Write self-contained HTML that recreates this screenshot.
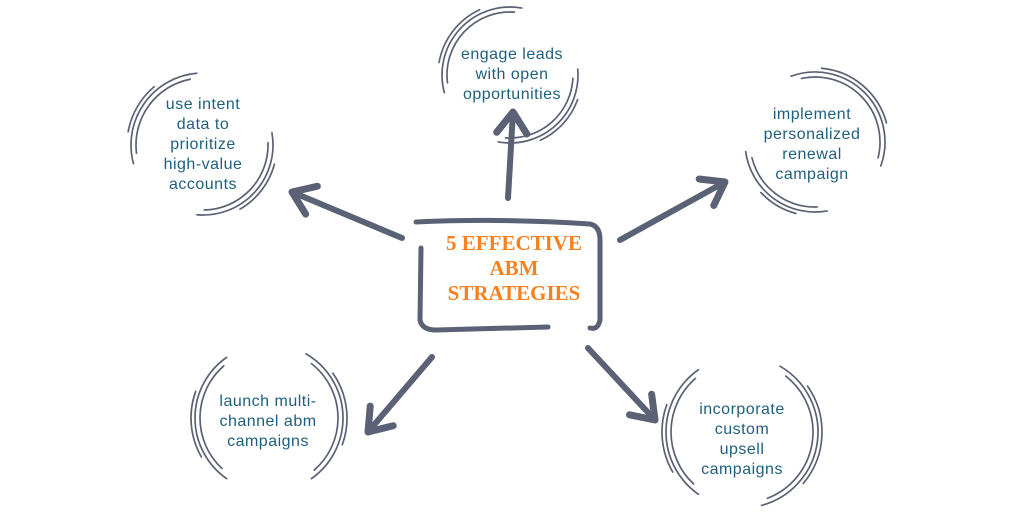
<!DOCTYPE html>
<html><head><style>html,body{margin:0;padding:0;background:#fff}svg{display:block}
.t{font-family:"Liberation Sans",sans-serif;font-size:16px;fill:#1f5f7e;text-anchor:middle;letter-spacing:0.5px}
.h{font-family:"Liberation Serif",serif;font-weight:bold;font-size:21px;fill:#f7801f;text-anchor:middle}
</style></head><body>
<svg id="s" width="1024" height="512" viewBox="0 0 1024 512" xmlns="http://www.w3.org/2000/svg">
<g id="g" fill="none" stroke="#5b6275" stroke-linecap="round" stroke-linejoin="round">
<path d="M416,222 Q500,218 590,224 Q600,226 600,240 L600,320 Q598,330 590,328" stroke-width="5"/>
<path d="M421,248 L420,320 Q422,330 436,330 L548,327" stroke-width="5"/>
</g>
<text class="h" x="514" y="250">5 EFFECTIVE</text>
<text class="h" x="514" y="275">ABM</text>
<text class="h" x="514" y="300">STRATEGIES</text>
<text class="t"><tspan x="203" y="109">use intent</tspan><tspan x="203" y="129">data to</tspan><tspan x="203" y="149">prioritize</tspan><tspan x="203" y="169">high-value</tspan><tspan x="203" y="189">accounts</tspan></text>
<text class="t"><tspan x="512" y="59">engage leads</tspan><tspan x="512" y="79">with open</tspan><tspan x="512" y="99">opportunities</tspan></text>
<text class="t"><tspan x="812" y="119">implement</tspan><tspan x="812" y="139">personalized</tspan><tspan x="812" y="159">renewal</tspan><tspan x="812" y="179">campaign</tspan></text>
<text class="t"><tspan x="268" y="406">launch multi-</tspan><tspan x="268" y="426">channel abm</tspan><tspan x="268" y="446">campaigns</tspan></text>
<text class="t"><tspan x="742" y="414">incorporate</tspan><tspan x="742" y="434">custom</tspan><tspan x="742" y="454">upsell</tspan><tspan x="742" y="474">campaigns</tspan></text>
</svg>
<script>
var g=document.getElementById('g'),NS='http://www.w3.org/2000/svg';
function P(d,w){var p=document.createElementNS(NS,'path');p.setAttribute('d',d);p.setAttribute('stroke-width',w);g.appendChild(p);}
function arc(cx,cy,r,a1,a2){var R=Math.PI/180,x1=cx+r*Math.cos(a1*R),y1=cy+r*Math.sin(a1*R),x2=cx+r*Math.cos(a2*R),y2=cy+r*Math.sin(a2*R);
var span=((a2-a1)%360+360)%360;P('M'+x1+','+y1+' A'+r+','+r+' 0 '+(span>180?1:0)+' 1 '+x2+','+y2,1.7);}
function set(cx,cy,r,a1,a2){arc(cx,cy,r,a1,a2);arc(cx,cy,r-5,a1+8,a2-6);arc(cx,cy,r+4,a1+25,a2-35);}
// left
set(203,145,72,165,265);set(203,145,70,350,95);
// top
set(510,75,68,165,280);set(510,75,68,355,100);
// right
set(815,142,70,250,20);set(815,142,70,80,172);
// bottom-left
set(269,418,74,125,235);set(269,418,74,300,55);
// bottom-right
set(742,432,76,125,235);set(742,432,76,300,75);
function arrow(x1,y1,x2,y2){P('M'+x1+','+y1+' L'+x2+','+y2,6);var a=Math.atan2(y2-y1,x2-x1),L=26,s=0.62;
P('M'+(x2-L*Math.cos(a-s))+','+(y2-L*Math.sin(a-s))+' L'+x2+','+y2+' L'+(x2-L*Math.cos(a+s))+','+(y2-L*Math.sin(a+s)),7);}
arrow(402,238,292,192);arrow(508,198,513,112);arrow(620,240,725,182);arrow(432,357,368,432);arrow(588,348,655,420);
</script>
</body></html>
